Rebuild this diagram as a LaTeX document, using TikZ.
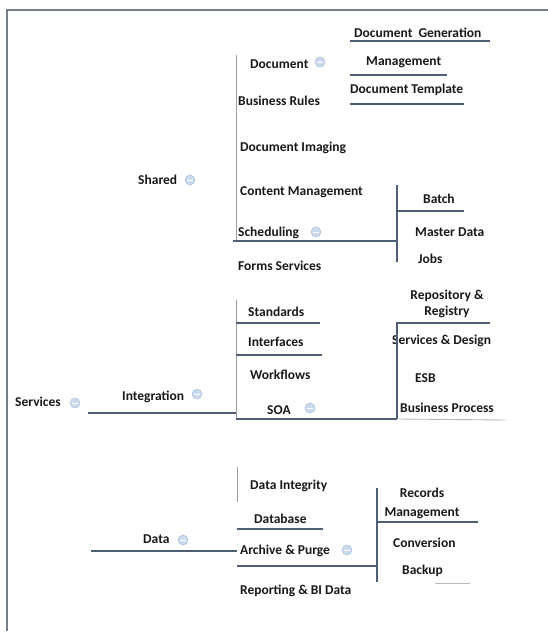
\documentclass[tikz,border=0pt]{standalone}
\usepackage{fontspec}
\setmainfont{Carlito}
\definecolor{frame}{RGB}{120,126,136}
\definecolor{ln}{RGB}{78,94,118}
\definecolor{lnlight}{RGB}{150,156,166}
\definecolor{togfill}{RGB}{204,218,238}
\definecolor{togdraw}{RGB}{176,196,224}
\definecolor{ink}{RGB}{25,25,25}
\tikzset{
  lbl/.style={anchor=west, inner sep=0pt, text=ink, font=\fontsize{13.5}{15}\selectfont\bfseries},
  lblc/.style={anchor=center, inner sep=0pt, text=ink, align=center, font=\fontsize{13.5}{16}\selectfont\bfseries},
  tog/.style={circle, minimum size=10pt, inner sep=0pt, fill=togfill, draw=togdraw, line width=0.6pt,
    path picture={\draw[white, line width=1pt] ([xshift=-2.8pt]path picture bounding box.center) -- ([xshift=2.8pt]path picture bounding box.center);}},
  link/.style={draw=ln, line width=1.1pt},
  trunk/.style={draw=lnlight, line width=1pt},
  faint/.style={draw=lnlight!70, line width=0.9pt},
  border/.style={draw=frame, line width=2pt}
}
\begin{document}
\begin{tikzpicture}[x=1pt, y=-1pt]
\useasboundingbox[fill=white] (0,0) rectangle (548,633);

% page border (top and left edges only)
\coordinate (bTL) at (7,10);
\coordinate (bTR) at (548,10);
\coordinate (bBL) at (7,631);
\draw[border] (bTR) -- (bTL) -- (bBL);

% ---- first level ----
\node[lbl] (svc) at (15,402) {Services};
\node[tog] (svcT) at (75,403) {};
\node[lbl] (shared) at (138,180) {Shared};
\node[tog] (sharedT) at (190,180) {};
\node[lbl] (integ) at (122,397) {Integration};
\node[tog] (integT) at (197,394) {};
\node[lbl] (data) at (143,539) {Data};
\node[tog] (dataT) at (183,540) {};

% ---- Shared branch ----
\node[lbl] (doc) at (250,64) {Document};
\node[tog] (docT) at (320,62) {};
\node[lbl] (docgen) at (354,33) {Document\ \ Generation};
\node[lbl] (docmgmt) at (366,62) {Management};
\node[lbl] (doctpl) at (350,90) {Document Template};
\node[lbl] (brules) at (238,101) {Business Rules};
\node[lbl] (dimg) at (240,148) {Document Imaging};
\node[lbl] (cmgmt) at (240,192) {Content Management};
\node[lbl] (sched) at (238,233) {Scheduling};
\node[tog] (schedT) at (316,232) {};
\node[lbl] (batch) at (423,199) {Batch};
\node[lbl] (mdata) at (415,232) {Master Data};
\node[lbl] (jobs) at (418,259) {Jobs};
\node[lbl] (forms) at (238,266) {Forms Services};

% ---- Integration branch ----
\node[lbl] (std) at (248,312) {Standards};
\node[lbl] (intf) at (248,342) {Interfaces};
\node[lbl] (wf) at (250,375) {Workflows};
\node[lbl] (soa) at (267,410) {SOA};
\node[tog] (soaT) at (310,408) {};
\node[lblc] (repo) at (447,304) {Repository \&\\Registry};
\node[lbl] (sdes) at (392,341) {Services \& Design};
\node[lbl] (esb) at (415,378) {ESB};
\node[lbl] (bproc) at (400,408) {Business Process};

% ---- Data branch ----
\node[lbl] (dint) at (250,486) {Data Integrity};
\node[lbl] (dbase) at (254,519) {Database};
\node[lbl] (arch) at (240,551) {Archive \& Purge};
\node[tog] (archT) at (347,550) {};
\node[lbl] (rpt) at (240,591) {Reporting \& BI Data};
\node[lblc, font=\fontsize{13.5}{19}\selectfont\bfseries] (rec) at (422,503) {Records\\Management};
\node[lbl] (conv) at (393,543) {Conversion};
\node[lbl] (bkp) at (402,571) {Backup};

% ---- connector end points ----
\coordinate (svcA) at (88,413);   \coordinate (svcB) at (236,413);
\coordinate (dataA) at (91,551);  \coordinate (dataB) at (237,551);
\coordinate (shV1) at (236,55);   \coordinate (shV2) at (236,241);
\coordinate (dgA) at (350,41);    \coordinate (dgB) at (490,41);
\coordinate (dmA) at (350,75);    \coordinate (dmB) at (447,75);
\coordinate (dtA) at (350,104);   \coordinate (dtB) at (464,104);
\coordinate (scA) at (233,241);   \coordinate (scB) at (397,241);
\coordinate (bV1) at (397,185);   \coordinate (bV2) at (397,262);
\coordinate (btA) at (397,211);   \coordinate (btB) at (464,211);
\coordinate (inV1) at (236,300);  \coordinate (inV2) at (236,419);
\coordinate (stA) at (236,323);   \coordinate (stB) at (320,323);
\coordinate (ifA) at (236,355);   \coordinate (ifB) at (322,355);
\coordinate (soA) at (236,419);   \coordinate (soB) at (397,419);
\coordinate (soV1) at (397,322);
\coordinate (rpA) at (397,323);   \coordinate (rpB) at (490,323);
\coordinate (bpB) at (505,420);
\coordinate (daV1) at (237,467);  \coordinate (daV2) at (237,502);
\coordinate (dbA) at (237,529);   \coordinate (dbB) at (323,529);
\coordinate (arA) at (237,566);   \coordinate (arB) at (378,566);
\coordinate (rcV1) at (377,488);  \coordinate (rcV2) at (377,582);
\coordinate (rcA) at (377,522);   \coordinate (rcB) at (478,522);
\coordinate (bkA) at (435,583);   \coordinate (bkB) at (470,583);

% ---- connectors ----
\draw[link] (svcA) -- (svcB);
\draw[link] (dataA) -- (dataB);
\draw[trunk] (shV1) -- (shV2);
\draw[link] (dgA) -- (dgB);
\draw[link] (dmA) -- (dmB);
\draw[link] (dtA) -- (dtB);
\draw[link] (scA) -- (scB);
\draw[link] (bV1) -- (bV2);
\draw[link] (btA) -- (btB);
\draw[trunk] (inV1) -- (inV2);
\draw[link] (stA) -- (stB);
\draw[link] (ifA) -- (ifB);
\draw[link] (soA) -- (soB);
\draw[link] (soV1) -- (soB);
\draw[link] (rpA) -- (rpB);
\draw[faint] (soB) -- (bpB);
\draw[trunk] (daV1) -- (daV2);
\draw[link] (dbA) -- (dbB);
\draw[link] (arA) -- (arB);
\draw[link] (rcV1) -- (rcV2);
\draw[link] (rcA) -- (rcB);
\draw[faint] (bkA) -- (bkB);
\end{tikzpicture}
\end{document}
